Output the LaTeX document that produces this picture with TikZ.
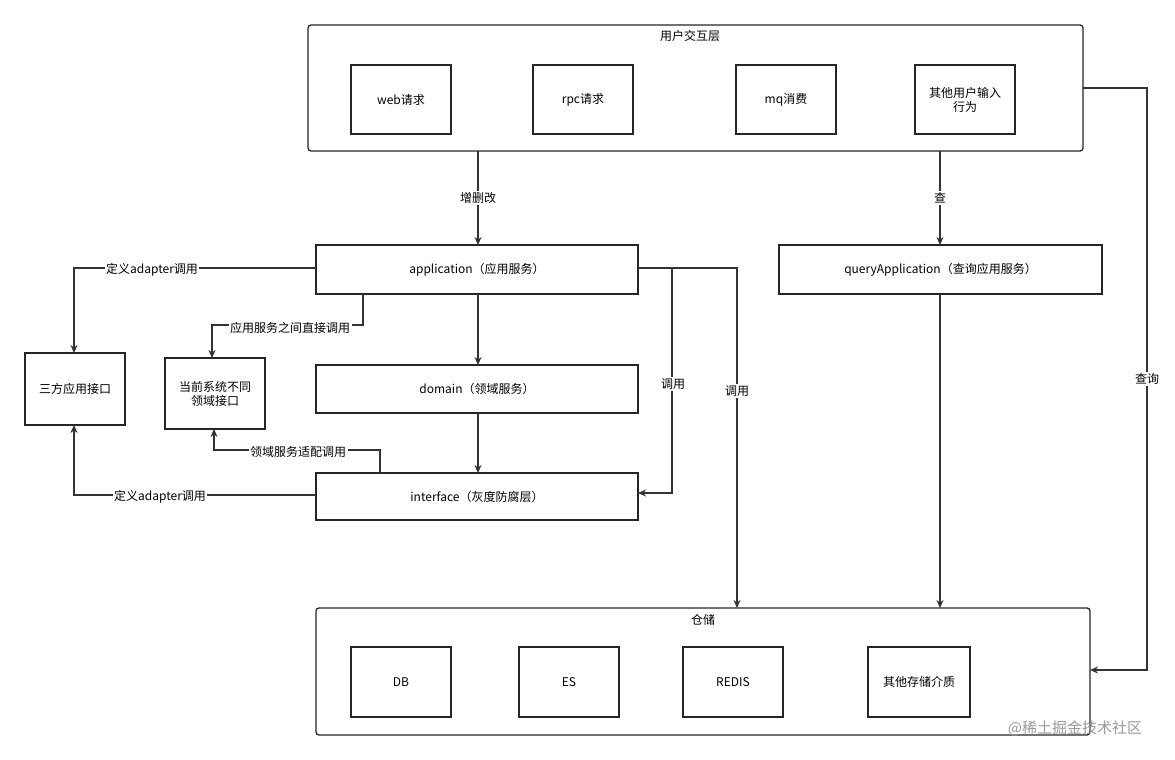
\documentclass[tikz,border=0pt]{standalone}
\usepackage{fontspec}
\setmainfont{Noto Sans CJK SC}
\usetikzlibrary{arrows.meta}
\begin{document}
\begin{tikzpicture}[x=1pt,y=-1pt,
  font=\fontsize{12}{14}\selectfont,
  box/.style={draw=black!85,line width=1.3pt},
  big/.style={draw=black!85,line width=1.3pt,rounded corners=3pt},
  ar/.style={draw=black!80,line width=1.3pt,-{Stealth[length=8pt,width=7pt]}},
  ln/.style={draw=black!80,line width=1.3pt},
  lab/.style={fill=white,inner sep=1.5pt}]
\useasboundingbox (0,0) rectangle (1175,760);
\fill[white] (0,0) rectangle (1175,760);
% top layer
\draw[big] (308,25) rectangle (1083,151);
\node (ut) at (690,36) {用户交互层};
\node[box,minimum width=100pt,minimum height=69pt] (web) at (401,99.5) {web请求};
\node[box,minimum width=100pt,minimum height=69pt] (rpc) at (583,99.5) {rpc请求};
\node[box,minimum width=100pt,minimum height=69pt] (mq) at (786,99.5) {mq消费};
\node[box,minimum width=100pt,minimum height=69pt,align=center] (oth) at (965,99.5) {其他用户输入\\行为};
\coordinate (top) at (695,88);
% middle
\node[box,minimum width=322pt,minimum height=49pt] (app) at (477,269.5) {application（应用服务）};
\node[box,minimum width=323pt,minimum height=49pt] (qa) at (940.5,269.5) {queryApplication（查询应用服务）};
\node[box,minimum width=322pt,minimum height=48pt] (dom) at (477,389) {domain（领域服务）};
\node[box,minimum width=322pt,minimum height=47pt] (itf) at (477,496.5) {interface（灰度防腐层）};
\node[box,minimum width=100pt,minimum height=72pt] (tp) at (75,389) {三方应用接口};
\node[box,minimum width=100pt,minimum height=71pt,align=center] (cur) at (215,393.5) {当前系统不同\\领域接口};
% storage
\draw[big] (316,608) rectangle (1090,735);
\node (st) at (703,620) {仓储};
\node[box,minimum width=100pt,minimum height=70pt] (db) at (401,682) {DB};
\node[box,minimum width=100pt,minimum height=70pt] (es) at (569,682) {ES};
\node[box,minimum width=100pt,minimum height=70pt] (rd) at (733,682) {REDIS};
\node[box,minimum width=102pt,minimum height=70pt] (os) at (919,682) {其他存储介质};
% arrows
\draw[ar] (478,151) -- node[lab]{增删改} (478,245);
\draw[ar] (940,151) -- node[lab]{查} (940,245);
\draw[ar] (1083,88) -- (1147,88) -- node[lab,pos=0.5]{查询} (1147,670) -- (1090,670);
\draw[ar] (316,268) -- (74,268) -- (74,353);
\node[lab] at (152,270) {定义adapter调用};
\draw[ar] (363,294) -- (363,325) -- (212,325) -- (212,358);
\node[lab] at (290,328) {应用服务之间直接调用};
\draw[ar] (478,294) -- (478,365);
\draw[ar] (478,413) -- (478,473);
\draw[ar] (638,268) -- (672,268) -- (672,493) -- (638,493);
\node[lab] at (673,384) {调用};
\draw[ar] (638,268) -- (737,268) -- (737,608);
\node[lab] at (737,391) {调用};
\draw[ar] (940,294) -- (940,608);
\draw[ar] (380,473) -- (380,450) -- (214,450) -- (214,429);
\node[lab] at (298,452) {领域服务适配调用};
\draw[ar] (316,495) -- (74,495) -- (74,425);
\node[lab] at (160,497) {定义adapter调用};
\node[text=black!40,font=\fontsize{15}{17}\selectfont] (wm) at (1075,728) {@稀土掘金技术社区};
\end{tikzpicture}
\end{document}
